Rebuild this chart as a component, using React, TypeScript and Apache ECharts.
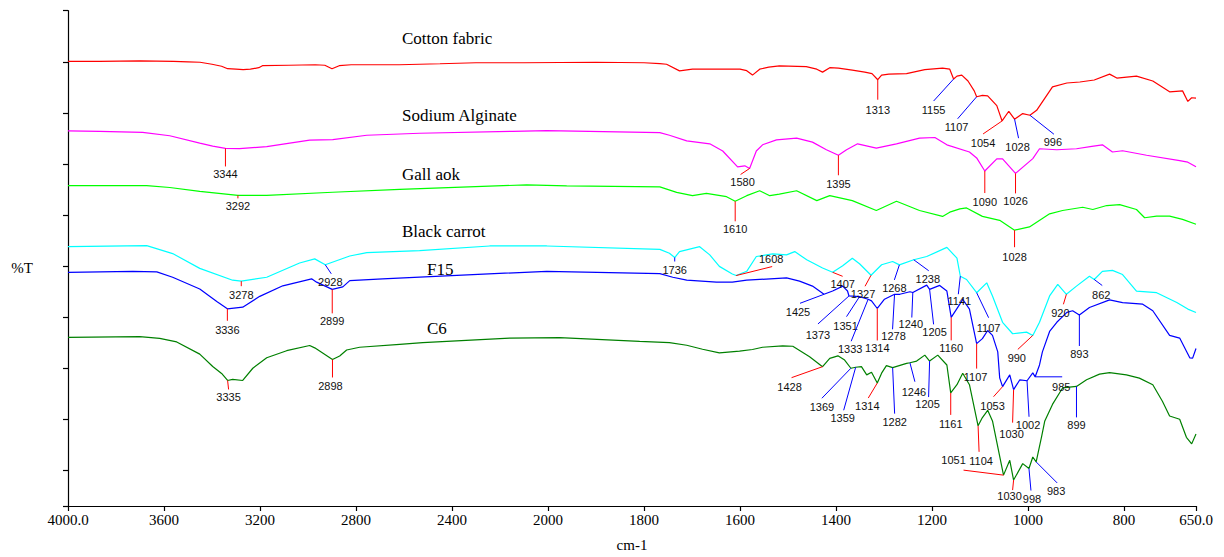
import React, { useEffect, useRef } from "react";
import * as echarts from "echarts";

// x-axis tick labels (the FTIR axis is expanded 2x below 2000 cm-1)
const xTickLabels = ["4000.0", "3600", "3200", "2800", "2400", "2000", "1800", "1600", "1400", "1200", "1000", "800", "650.0"];

// Spectra: [wavenumber (cm-1), %T in arbitrary stacked units]
const cottonFabric: [number, number][] = [
  [4000, 451], [3870, 451], [3700, 451.5], [3560, 451], [3500, 450.5], [3450, 450], [3400, 448], [3360, 446], [3335, 443.5],
  [3300, 443], [3270, 442.5], [3240, 443], [3205, 444.5], [3190, 446.5], [3080, 447], [2970, 447.5], [2930, 447], [2900, 443.5],
  [2870, 446.5], [2820, 447.5], [2620, 447.5], [2450, 448.5], [2300, 449.5], [2100, 449.5], [1900, 450], [1800, 449.5],
  [1767, 448.7], [1753, 448], [1726, 441.3], [1699, 443], [1650, 443], [1600, 443], [1586, 441.5], [1574, 437], [1559, 443],
  [1540, 445], [1518, 446.3], [1462, 445.5], [1440, 443], [1428, 440], [1413, 444.5], [1395, 444], [1366, 442], [1340, 440],
  [1325, 438.5], [1313, 432.3], [1305, 437], [1290, 438], [1253, 438.5], [1215, 442.5], [1178, 444], [1163, 443], [1155, 433],
  [1148, 436], [1138, 437], [1125, 431], [1112, 421], [1107, 415], [1095, 416.5], [1084, 416], [1065, 406], [1054, 390.5],
  [1040, 400.3], [1028, 392.3], [1011, 398], [996, 396.3], [982, 401.3], [949, 425], [919, 429], [892, 430], [862, 432],
  [830, 438], [815, 434], [774, 436], [740, 431], [705, 420], [678, 421], [667, 410.3], [659, 414], [650, 413.7],
];

const sodiumAlginate: [number, number][] = [
  [4000, 380.5], [3868, 380], [3689, 379], [3576, 375.5], [3451, 368], [3397, 365], [3344, 362.6], [3285, 362.5], [3172, 364.4],
  [3076, 368], [2993, 371], [2897, 371.5], [2755, 376], [2535, 378], [2147, 380], [2005, 380.7], [1767, 378.7], [1747, 376],
  [1711, 370.3], [1663, 367.3], [1636, 360], [1605, 344], [1590, 345], [1580, 342.3], [1566, 360], [1553, 366.3], [1524, 371.3],
  [1482, 373], [1449, 369], [1420, 361.3], [1395, 355.7], [1378, 361.3], [1355, 367.3], [1316, 363], [1274, 367.3], [1226, 373],
  [1194, 373.7], [1169, 366.3], [1122, 359], [1107, 353], [1090, 339.7], [1065, 352], [1053, 352], [1026, 337.3], [990, 352.3],
  [976, 362.3], [940, 361.3], [899, 362.3], [867, 364.7], [845, 366.3], [824, 359], [803, 360.3], [753, 355.7], [684, 350.3],
  [667, 348.7], [650, 344],
];

const gallAok: [number, number][] = [
  [4000, 325], [3672, 325], [3576, 323], [3451, 319], [3292, 315], [3172, 315], [2897, 318.2], [2618, 321], [2089, 325.7],
  [1961, 324.7], [1767, 323.7], [1732, 318], [1699, 314.7], [1670, 317], [1628, 313.7], [1610, 309], [1586, 314.7], [1559, 319.7],
  [1538, 314.7], [1518, 316.3], [1482, 319.7], [1440, 309.7], [1413, 314.7], [1366, 309.7], [1316, 299.7], [1274, 309],
  [1226, 299.7], [1178, 293.7], [1163, 298], [1142, 301.3], [1128, 302.3], [1095, 293.7], [1059, 289.7], [1028, 279.7], [997, 283],
  [955, 296.3], [928, 299.7], [886, 303], [865, 300.7], [836, 304.7], [809, 305.7], [774, 300.7], [757, 292.3], [732, 294],
  [705, 294], [678, 290.7], [650, 285.7],
];

const blackCarrot: [number, number][] = [
  [4000, 263], [3672, 264], [3564, 256], [3451, 241], [3314, 229], [3278, 228], [3172, 232], [3035, 246.4], [2972, 250.6],
  [2928, 244.6], [2826, 253.5], [2755, 257], [2535, 259], [2243, 263.7], [2005, 263.7], [1767, 260.3], [1747, 256.3], [1736, 252],
  [1726, 258], [1684, 263], [1663, 254.7], [1643, 243], [1616, 235.3], [1608, 233.7], [1586, 238], [1566, 253], [1532, 255.7],
  [1503, 254.7], [1486, 258], [1461, 249.7], [1428, 241.3], [1407, 237], [1386, 243.7], [1366, 251.3], [1351, 245.7], [1327, 234],
  [1305, 244.7], [1282, 248], [1268, 244.5], [1238, 249.7], [1211, 253], [1169, 262.3], [1148, 251.3], [1141, 233], [1128, 229.7],
  [1107, 216.3], [1086, 226.3], [1074, 213], [1053, 186.3], [1032, 174.7], [1003, 176.3], [990, 173], [976, 186.3], [955, 213],
  [938, 224.7], [920, 214.7], [899, 223], [872, 233], [862, 229.7], [845, 238], [824, 239], [803, 234.7], [774, 218], [732, 216.3],
  [690, 206.3], [667, 199.7], [650, 196.3],
];

const f15: [number, number][] = [
  [4000, 237], [3730, 238], [3630, 237.5], [3564, 232], [3451, 220], [3380, 207.3], [3336, 200], [3272, 201.6], [3201, 212.6],
  [3105, 223.3], [2985, 230.4], [2964, 227], [2899, 219.7], [2855, 222.2], [2826, 228.6], [2689, 230.4], [2535, 232.2], [2005, 238],
  [1767, 235.7], [1740, 232], [1711, 229], [1649, 227], [1616, 227], [1586, 229], [1503, 231.3], [1476, 228], [1449, 223],
  [1425, 214.7], [1407, 218], [1386, 223], [1376, 218], [1373, 213], [1351, 212.3], [1333, 209.7], [1326, 208], [1314, 200.3],
  [1299, 209.7], [1278, 214.7], [1267, 214.7], [1246, 217.3], [1240, 216.5], [1211, 224], [1205, 219.7], [1184, 223.7], [1169, 218],
  [1160, 191.3], [1142, 204.7], [1136, 209.7], [1122, 199.7], [1107, 164.7], [1095, 169.7], [1084, 178], [1074, 173], [1063, 156.3],
  [1059, 130], [1053, 121], [1038, 133], [1030, 118], [1017, 128], [1002, 127], [990, 135], [985, 131], [976, 143], [970, 156.3],
  [955, 177], [940, 186.3], [919, 196.3], [907, 198], [893, 193.7], [872, 201.3], [830, 209], [803, 206.3], [761, 204.7], [740, 198],
  [705, 173], [684, 170.3], [663, 150.3], [657, 150], [650, 159.7],
];

const c6: [number, number][] = [
  [4000, 171], [3701, 171.7], [3618, 170], [3547, 166.4], [3451, 154], [3397, 141.5], [3360, 134.4], [3335, 127.3], [3314, 128.4],
  [3272, 127.3], [3230, 139.7], [3172, 150.4], [3089, 157.5], [2993, 162.8], [2972, 160.4], [2898, 148.6], [2868, 152.2],
  [2839, 158.2], [2785, 161], [2618, 164], [2522, 165.7], [2160, 170.3], [1976, 170.7], [1809, 167], [1747, 165.7], [1711, 163],
  [1678, 159], [1643, 155.3], [1601, 157], [1574, 158.7], [1553, 161], [1511, 162.3], [1490, 162], [1455, 151.3], [1428, 141.3],
  [1413, 149.7], [1396, 152.3], [1382, 148], [1369, 139.7], [1359, 140.7], [1347, 141.3], [1336, 133], [1326, 135.7], [1314, 124.7],
  [1305, 134.7], [1295, 142.3], [1282, 140.3], [1253, 144.7], [1246, 145.3], [1232, 147], [1215, 153], [1205, 147], [1188, 153],
  [1169, 143], [1161, 114.7], [1148, 123], [1136, 134.7], [1122, 123], [1104, 81.3], [1095, 89.7], [1084, 97], [1074, 86.3],
  [1051, 31.3], [1038, 46.3], [1030, 26.3], [1011, 43], [998, 38], [990, 49.7], [983, 44.7], [972, 69.7], [965, 86.3], [949, 103],
  [928, 119.7], [899, 121.3], [878, 128], [851, 133.7], [830, 135.3], [795, 133], [768, 129.7], [740, 123], [720, 106.3],
  [705, 91.3], [684, 88], [670, 69.7], [659, 63], [650, 73],
];

const spectra = [cottonFabric, sodiumAlginate, gallAok, blackCarrot, f15, c6];
const seriesNames = ["Cotton fabric", "Sodium Alginate", "Gall aok", "Black carrot", "F15", "C6"];
const seriesColors = ["#ff0000", "#ff00ff", "#00ff00", "#00ffff", "#0000ff", "#008000"];

// Peak annotations: [spectrum index, peak wavenumber, leader colour, leader dx, dy, label dx, dy] (offsets in px)
const peakMarks: [number, number, string, number, number, number, number][] = [
  [0, 1313, "r", 0, 20, 0, 30], [0, 1155, "b", -20, 22, -20, 31], [0, 1107, "b", -19, 22, -20, 30],
  [0, 1054, "r", -19, 13, -19, 22], [0, 1028, "b", 4, 19, 3, 28], [0, 996, "b", 24, 19, 23, 27],
  [1, 3344, "r", 0, 18, 0, 26], [1, 1580, "r", -9, 6, -7, 14], [1, 1395, "r", 0, 20, 0, 29],
  [1, 1090, "r", 0, 22, 0, 31], [1, 1026, "r", 0, 20, 0, 28],
  [2, 3292, "r", 0, 3, 0, 11], [2, 1610, "r", 0, 20, 0, 28], [2, 1028, "r", 0, 17, 0, 27],
  [3, 3278, "r", 0, 5, 0, 14], [3, 2928, "b", 6, 9, 5, 17], [3, 1736, "b", 0, 4, 0, 12], [3, 1608, "r", 36, -9, 35, -17],
  [3, 1407, "r", 10, 4, 10, 12], [3, 1327, "r", -6, 11, -8, 19], [3, 1268, "b", -5, 15, -5, 23], [3, 1238, "b", 15, 11, 14, 19],
  [3, 1141, "b", -2, 18, -1, 25], [3, 1107, "b", 12, 25, 12, 35], [3, 990, "r", -15, 14, -16, 23], [3, 920, "r", -3, 10, -6, 19],
  [3, 862, "b", 8, 6, 7, 15],
  [4, 3336, "r", 0, 12, 0, 21], [4, 2899, "r", 0, 24, 0, 32], [4, 1425, "b", -24, 9, -26, 18], [4, 1373, "b", -31, 28, -31, 39],
  [4, 1351, "b", -13, 20, -14, 29], [4, 1333, "b", -17, 42, -18, 50], [4, 1314, "r", 0, 32, 0, 40], [4, 1278, "b", -2, 35, -1, 42],
  [4, 1240, "b", -1, 25, -2, 31], [4, 1205, "b", 4, 35, 5, 43], [4, 1160, "r", 0, 23, 0, 31], [4, 1107, "r", 0, 25, -1, 33],
  [4, 1053, "r", -9, 10, -10, 19], [4, 1030, "r", -1, 33, -2, 44], [4, 1002, "b", 2, 36, 1, 44], [4, 985, "b", 27, 0, 26, 10],
  [4, 893, "b", 0, 31, 0, 39],
  [5, 3335, "r", 1, 9, 1, 17], [5, 2898, "r", 0, 18, -2, 27], [5, 1428, "r", -31, 11, -33, 20], [5, 1369, "b", -29, 30, -29, 39],
  [5, 1359, "b", -12, 43, -13, 51], [5, 1314, "r", -9, 15, -10, 23], [5, 1282, "b", 2, 46, 2, 54], [5, 1246, "b", 5, 19, 4, 29],
  [5, 1205, "b", -1, 36, -2, 43], [5, 1161, "r", 0, 22, 0, 31], [5, 1104, "r", 1, 26, 3, 35], [5, 1051, "r", -40, -5, -50, -15],
  [5, 1030, "r", -1, 10, -4, 16], [5, 998, "b", 2, 22, 3, 30], [5, 983, "b", 21, 21, 20, 29], [5, 899, "b", 0, 31, 0, 39],
];

const TOP = 502.3;
const X_MAX = 11.75;

// piecewise FTIR scale: 400 cm-1 per division above 2000, 200 cm-1 per division below
function toU(wn: number): number {
  return wn >= 2000 ? (4000 - wn) / 400 : 5 + (2000 - wn) / 200;
}

function valueAt(data: [number, number][], wn: number): number {
  for (let i = 0; i < data.length - 1; i++) {
    const [w1, t1] = data[i];
    const [w2, t2] = data[i + 1];
    if (wn <= w1 && wn >= w2) {
      const f = w1 === w2 ? 0 : (w1 - wn) / (w1 - w2);
      return t1 + (t2 - t1) * f;
    }
  }
  return data[data.length - 1][1];
}

const SERIF = '"Liberation Serif", "Times New Roman", serif';
const SANS = '"Liberation Sans", Arial, sans-serif';

export default function App() {
  const ref = useRef<HTMLDivElement>(null);

  useEffect(() => {
    if (!ref.current) return;
    const chart = echarts.init(ref.current, undefined, { renderer: "svg" });

    const lineSeries = spectra.map((data, i) => ({
      name: seriesNames[i],
      type: "line",
      data: data.map(([wn, t]) => [toU(wn), TOP - t]),
      showSymbol: false,
      symbol: "none",
      silent: true,
      lineStyle: { color: seriesColors[i], width: 1.2 },
      itemStyle: { color: seriesColors[i] },
      z: 2,
    }));

    const nameLabelPos: [number, number][] = [
      [402, 38], [402, 115], [402, 174], [402, 231], [427, 269], [427, 328],
    ];

    const option: any = {
      animation: false,
      backgroundColor: "#ffffff",
      grid: { left: 68, top: 10.7, width: 1128, height: 502.3 },
      xAxis: {
        type: "value",
        min: 0,
        max: X_MAX,
        interval: 1,
        name: "cm-1",
        nameLocation: "middle",
        nameGap: 31,
        nameTextStyle: { color: "#000", fontFamily: SERIF, fontSize: 15 },
        axisLine: { show: true, onZero: false, lineStyle: { color: "#000", width: 1.2 } },
        axisTick: { show: true, length: 5, lineStyle: { color: "#000", width: 1.2 } },
        axisLabel: {
          show: true,
          showMinLabel: true,
          showMaxLabel: true,
          margin: 6,
          color: "#000",
          fontFamily: SERIF,
          fontSize: 15,
          formatter: (v: number) => (Math.abs(v - X_MAX) < 1e-6 ? xTickLabels[12] : xTickLabels[Math.round(v)] ?? ""),
        },
        splitLine: { show: false },
      },
      yAxis: {
        type: "value",
        inverse: true,
        min: 0,
        max: TOP,
        interval: 51.8,
        axisLine: { show: true, onZero: false, lineStyle: { color: "#000", width: 1.2 } },
        axisTick: { show: true, length: 5, lineStyle: { color: "#000", width: 1.2 } },
        axisLabel: { show: false },
        splitLine: { show: false },
      },
      graphic: [
        {
          type: "text",
          x: 22,
          y: 268,
          style: { text: "%T", fill: "#000", font: `15px ${SERIF}`, align: "center", verticalAlign: "middle" },
        },
        ...seriesNames.map((n, i) => ({
          type: "text",
          x: nameLabelPos[i][0],
          y: nameLabelPos[i][1],
          style: { text: n, fill: "#000", font: `17px ${SERIF}`, align: "left", verticalAlign: "middle" },
        })),
      ],
      series: [
        ...lineSeries,
        {
          type: "custom",
          name: "peaks",
          silent: true,
          z: 5,
          clip: false,
          data: peakMarks.map((m) => [toU(m[1]), TOP - valueAt(spectra[m[0]], m[1])]),
          encode: { x: 0, y: 1 },
          renderItem: (params: any, api: any) => {
            const m = peakMarks[params.dataIndex];
            const pt = api.coord([toU(m[1]), TOP - valueAt(spectra[m[0]], m[1])]);
            const color = m[2] === "r" ? "#ff0000" : "#0000ff";
            return {
              type: "group",
              children: [
                {
                  type: "line",
                  shape: { x1: pt[0], y1: pt[1], x2: pt[0] + m[3], y2: pt[1] + m[4] },
                  style: { stroke: color, lineWidth: 1 },
                },
                {
                  type: "text",
                  x: pt[0] + m[5],
                  y: pt[1] + m[6],
                  style: {
                    text: String(m[1]),
                    fill: "#111",
                    font: `11px ${SANS}`,
                    align: "center",
                    verticalAlign: "middle",
                  },
                },
              ],
            };
          },
        },
      ],
    };

    chart.setOption(option);
    return () => chart.dispose();
  }, []);

  return (
    <div
      ref={ref}
      style={{ position: "absolute", left: 0, top: 0, width: 1224, height: 557, background: "#fff" }}
    />
  );
}
